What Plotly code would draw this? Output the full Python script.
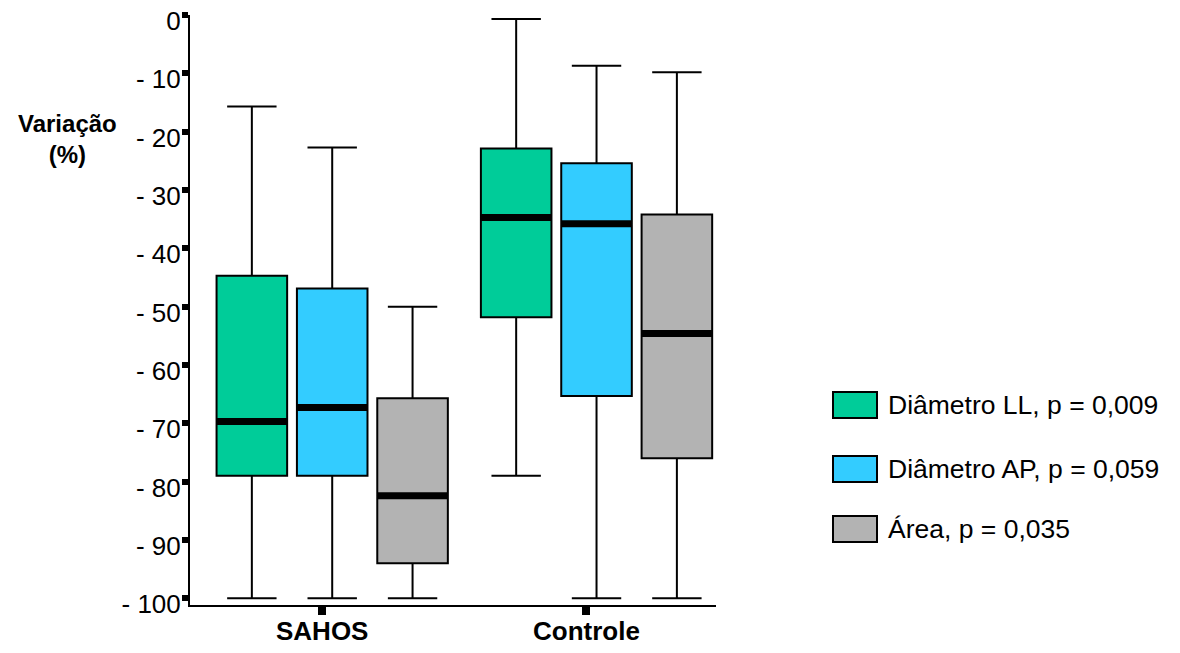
import plotly.graph_objects as go

groups = ["SAHOS", "Controle"]
series = ["Diâmetro LL, p = 0,009", "Diâmetro AP, p = 0,059", "Área, p = 0,035"]
colors = ["#00CC99", "#33CCFF", "#B3B3B3"]

upper = [[-15.7, -0.7], [-22.7, -8.7], [-50.0, -9.8]]
q3 = [[-44.7, -22.9], [-46.9, -25.4], [-65.7, -34.2]]
median = [[-69.7, -34.7], [-67.3, -35.8], [-82.4, -54.6]]
q1 = [[-79.0, -51.8], [-79.0, -65.3], [-94.0, -76.0]]
lower = [[-100.0, -79.0], [-100.0, -100.0], [-100.0, -100.0]]

ytickvals = [0, -10, -20, -30, -40, -50, -60, -70, -80, -90, -100]
yticktext = ["0", "- 10", "- 20", "- 30", "- 40", "- 50", "- 60", "- 70", "- 80", "- 90", "- 100"]

# layout constants (page body has an 8px margin, so figure is 16px smaller)
offsets = [-0.266, 0.038, 0.342]
bw = 0.267
FONT = "Liberation Sans, Arial, sans-serif"
PAGE = 8
W, H = 1180 - 2 * PAGE, 653 - 2 * PAGE
L, T = 190 - PAGE, 15 - PAGE
R = W - (716 - PAGE)
B = H - (605 - PAGE)
pw, ph = W - L - R, H - T - B
YR = [-101.15, 0]
LABEL_SHIFT = 1.0  # tick labels sit slightly below their tick marks

def pxx(px):
    return (px - PAGE - L) / pw

def pxy(py):
    return (H - B - (py - PAGE)) / ph

fig = go.Figure()
for k in range(len(series)):
    pos = [i + offsets[k] for i in range(len(groups))]
    fig.add_trace(go.Box(
        x=pos, q1=q1[k], median=median[k], q3=q3[k],
        lowerfence=lower[k], upperfence=upper[k],
        width=bw, whiskerwidth=0.7, fillcolor=colors[k],
        line=dict(color="black", width=2), boxpoints=False,
        name=series[k], showlegend=False, hoverinfo="skip",
    ))
    mx, my = [], []
    for i, p in enumerate(pos):
        mx += [p - bw / 2, p + bw / 2, None]
        my += [median[k][i], median[k][i], None]
    fig.add_trace(go.Scatter(x=mx, y=my, mode="lines",
                             line=dict(color="black", width=7),
                             showlegend=False, hoverinfo="skip"))

# empty trace so the label axis (y2) is drawn
fig.add_trace(go.Scatter(x=[None], y=[None], yaxis="y2", mode="markers",
                         showlegend=False, hoverinfo="skip"))

# legend drawn as shapes + text
leg_tops = [392, 456, 516]
for k in range(len(series)):
    top = leg_tops[k]
    fig.add_shape(type="rect", xref="paper", yref="paper",
                  x0=pxx(833), x1=pxx(877), y0=pxy(top + 26), y1=pxy(top),
                  fillcolor=colors[k], line=dict(color="black", width=2))
    fig.add_annotation(xref="paper", yref="paper", x=pxx(886), y=pxy(top + 13),
                       xanchor="left", yanchor="middle", showarrow=False,
                       text=series[k], font=dict(family=FONT, size=26.5, color="black"))

# category labels
for i, g in enumerate(groups):
    fig.add_annotation(xref="x", yref="paper", x=i, y=pxy(631),
                       xanchor="center", yanchor="middle", showarrow=False,
                       text="<b>" + g + "</b>",
                       font=dict(family=FONT, size=26, color="black"))

fig.add_annotation(xref="paper", yref="paper", x=pxx(67), y=pxy(139),
                   xanchor="center", yanchor="middle", showarrow=False,
                   text="<b>Variação<br>(%)</b>",
                   font=dict(family=FONT, size=24, color="black"))

fig.update_layout(
    width=W, height=H,
    margin=dict(l=L, r=R, t=T, b=B, pad=0, autoexpand=False),
    plot_bgcolor="white", paper_bgcolor="white",
    font=dict(family=FONT, size=26, color="black"),
    xaxis=dict(range=[-0.5, 1.49], tickvals=[0, 1], showticklabels=False,
               ticks="outside", ticklen=8, tickwidth=8, tickcolor="black",
               showline=True, linecolor="black", linewidth=2,
               showgrid=False, zeroline=False, automargin=False),
    yaxis=dict(range=YR, tickvals=ytickvals, showticklabels=False,
               ticks="outside", ticklen=6, tickwidth=6, tickcolor="black",
               showline=True, linecolor="black", linewidth=2,
               showgrid=False, zeroline=False, automargin=False),
    yaxis2=dict(range=[YR[0] + LABEL_SHIFT, YR[1] + LABEL_SHIFT],
                overlaying="y", side="left",
                tickvals=ytickvals, ticktext=yticktext,
                ticks="outside", ticklen=3, tickwidth=1,
                tickcolor="rgba(0,0,0,0)",
                showline=False, showgrid=False, zeroline=False,
                automargin=False, ticklabeloverflow="allow",
                tickfont=dict(family=FONT, size=26, color="black")),
)

fig.write_html("out.html")
